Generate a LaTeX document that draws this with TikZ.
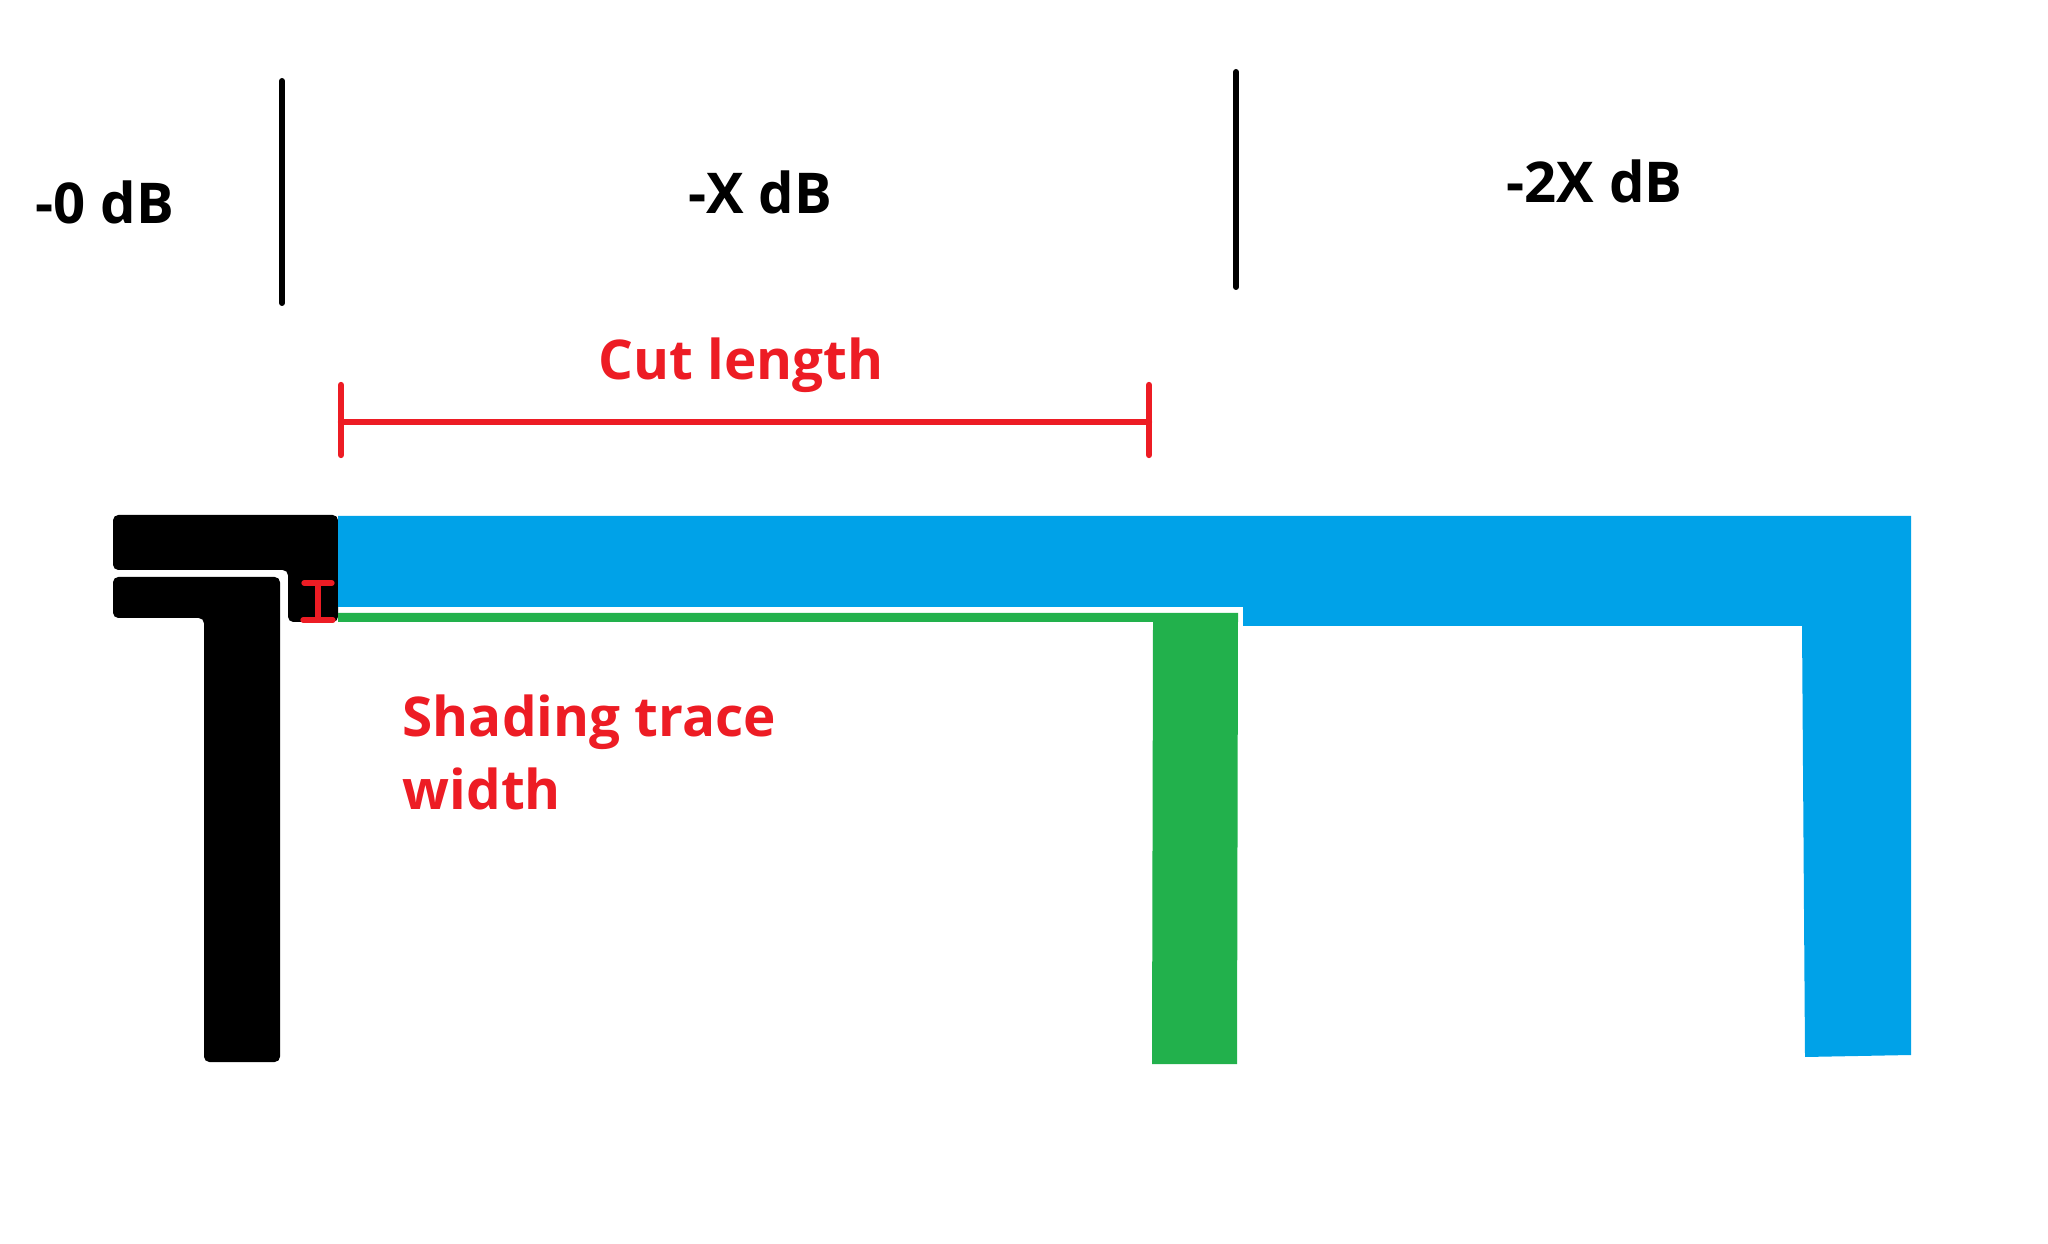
\documentclass[tikz,border=0pt]{standalone}
\usepackage{fontspec}
\setmainfont{Open Sans}
\definecolor{traceblue}{RGB}{0,162,232}
\definecolor{tracegreen}{RGB}{34,177,76}
\definecolor{markred}{RGB}{237,28,36}
\tikzset{
	dblabel/.style={inner sep=0pt, anchor=base west, font=\fontsize{16}{21}\selectfont\bfseries},
	redlabel/.style={dblabel, text=markred, align=left, font=\fontsize{15.6}{21}\selectfont\bfseries},
	divider/.style={line width=1.7pt, line cap=round},
	redbar/.style={markred, line width=1.8pt, line cap=round}
}
\begin{document}
\begin{tikzpicture}[x=0.1mm, y=-0.1mm]
		\useasboundingbox (0,0) rectangle (2048,1244);
		
		%Attenuation zones
		\node[dblabel] (Z0) at (35,224) {-0 dB};
		\node[dblabel] (Z1) at (688,214) {-X dB};
		\node[dblabel] (Z2) at (1506,203) {-2X dB};
		\draw[divider] (282,81) -- (282,303);
		\draw[divider] (1236,72) -- (1236,287);
		
		%Cut length
		\node[redlabel] (CL) at (598,380) {Cut length};
		\draw[redbar] (341,422) -- (1149,422);
		\draw[redbar] (341,385) -- (341,455);
		\draw[redbar] (1149,385) -- (1149,455);
		
		%Feed (black)
		\fill[rounded corners=1.5pt] (113,515) -- (338,515) -- (338,622) -- (288,622) -- (288,570) -- (113,570) -- cycle;
		\fill[rounded corners=1.5pt] (113,577) -- (280,577) -- (280,1062) -- (204,1062) -- (204,618) -- (113,618) -- cycle;
		
		%Trace (blue)
		\fill[traceblue] (338,516) -- (1911,516) -- (1911,1055) -- (1805,1057) -- (1802,626) -- (1243,626) -- (1243,607) -- (338,607) -- cycle;
		
		%Shading trace (green)
		\fill[tracegreen] (338,613) -- (1238,613) -- (1237,1064) -- (1152,1064) -- (1153,622) -- (338,622) -- cycle;
		
		%Shading trace width marker
		\draw[redbar, line width=1.5pt] (318,583) -- (318,620);
		\draw[redbar, line width=1.5pt] (304,583) -- (332,583);
		\draw[redbar, line width=1.5pt] (303,620) -- (333,620);
		\node[redlabel] (SW) at (402,810) {Shading trace\\width};
	\end{tikzpicture}
\end{document}
